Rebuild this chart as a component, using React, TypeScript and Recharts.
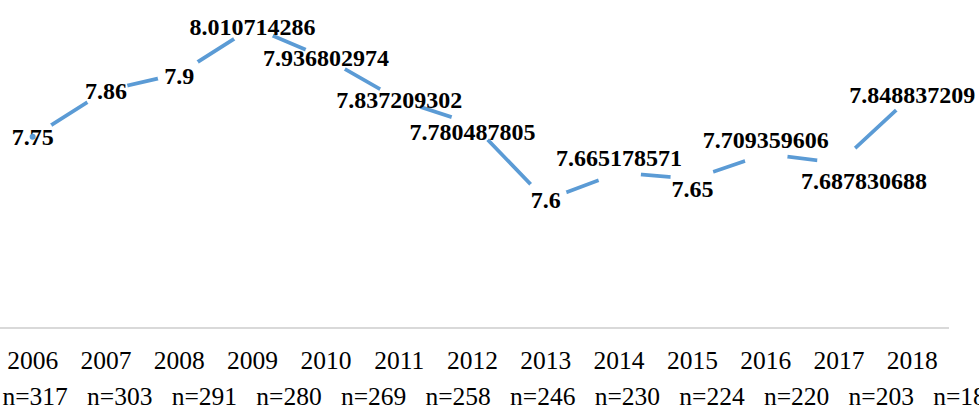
import React from 'react';
import { LineChart, Line, XAxis, YAxis, LabelList } from 'recharts';

const years = ['2006', '2007', '2008', '2009', '2010', '2011', '2012', '2013', '2014', '2015', '2016', '2017', '2018'];
const scores = [
  7.75, 7.86, 7.9, 8.010714286, 7.936802974, 7.837209302, 7.780487805,
  7.6, 7.665178571, 7.65, 7.709359606, 7.687830688, 7.848837209,
];
const sampleSizes = ['n=317', 'n=303', 'n=291', 'n=280', 'n=269', 'n=258', 'n=246', 'n=230', 'n=224', 'n=220', 'n=203', 'n=186'];

const data = years.map((year, i) => ({ year, score: scores[i], n: sampleSizes[i] }));

// manual data label nudges, like dragged labels in the original
const labelNudge: Record<number, [number, number]> = {
  2: [0, 2],
  6: [0, 8],
  8: [0, -15],
  9: [0, 10],
  10: [0, -14],
  11: [25, 18],
};

const SERIF = '"Liberation Serif", "Times New Roman", serif';
const LINE_BLUE = '#5B9BD5';

function ValueLabel(props: any) {
  const { x, y, value, index } = props;
  const [dx, dy] = labelNudge[index] ?? [0, 0];
  return (
    <text
      x={x + dx}
      y={y + dy}
      textAnchor="middle"
      dominantBaseline="central"
      fontFamily={SERIF}
      fontWeight="bold"
      fontSize={24}
      fill="#000"
    >
      {String(value)}
    </text>
  );
}

function YearTick(props: any) {
  const { x, y, payload, index } = props;
  const n = sampleSizes[index];
  return (
    <g>
      <text x={x} y={y + 41} textAnchor="middle" fontFamily={SERIF} fontSize={25.5} fill="#000">
        {payload.value}
      </text>
      {n && (
        <text x={x + 2.5 + index * 11.3} y={y + 77} textAnchor="middle" fontFamily={SERIF} fontSize={25.5} fill="#000">
          {n}
        </text>
      )}
    </g>
  );
}

export default function App() {
  return (
    <div style={{ position: 'absolute', left: -4, top: 0, width: 983, height: 405, background: '#fff' }}>
      <LineChart width={983} height={405} data={data} margin={{ top: 0, right: 30, bottom: 0, left: 0 }}>
        <XAxis
          dataKey="year"
          axisLine={{ stroke: '#d9d9d9', strokeWidth: 2 }}
          tickLine={false}
          tickSize={0}
          tickMargin={0}
          interval={0}
          height={77}
          padding={{ left: 36.65, right: 36.65 }}
          tick={<YearTick />}
        />
        <YAxis hide domain={[7.296, 8.075]} allowDataOverflow />
        <Line
          type="linear"
          dataKey="score"
          stroke={LINE_BLUE}
          strokeWidth={3.75}
          dot={{ r: 22, fill: '#fff', stroke: 'none' }}
          isAnimationActive={false}
        >
          <LabelList dataKey="score" content={<ValueLabel />} />
        </Line>
      </LineChart>
    </div>
  );
}
